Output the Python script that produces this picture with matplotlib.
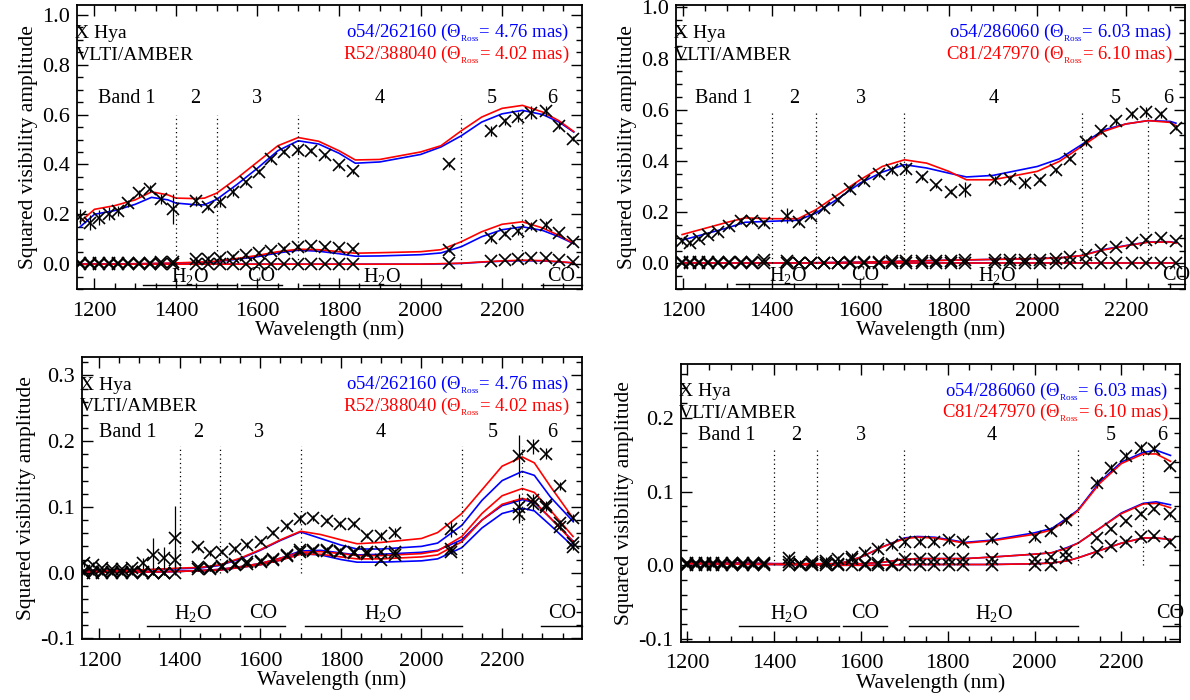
import matplotlib
matplotlib.use("Agg")
import matplotlib.pyplot as plt
from matplotlib.ticker import MultipleLocator

plt.rcParams['font.family'] = ['Liberation Serif', 'DejaVu Serif']
plt.rcParams['mathtext.fontset'] = 'custom'
plt.rcParams['mathtext.rm'] = 'Liberation Serif'
plt.rcParams['mathtext.it'] = 'Liberation Serif:italic'

# ---------------- panel 1 (top left) : epoch 1 -----------------
wl1 = [1165, 1190, 1212, 1235, 1258, 1283, 1310, 1336, 1364, 1392,
       1448, 1479, 1509, 1539, 1571, 1603, 1634, 1666, 1700,
       1732, 1766, 1800, 1834, 2070,
       2172, 2207, 2239, 2272, 2307, 2340, 2373]
v1_a = [0.19, 0.166, 0.187, 0.203, 0.214, 0.244, 0.284, 0.303, 0.26, 0.22,
        0.252, 0.228, 0.25, 0.29, 0.329, 0.371, 0.42, 0.45, 0.458,
        0.455, 0.436, 0.396, 0.372, 0.40,
        0.536, 0.573, 0.591, 0.608, 0.613, 0.556, 0.504]
e1_a = [0.03, 0.03, 0.03, 0.025, 0.02, 0.015, 0.015, 0.015, 0.02, 0.06,
        0.02, 0.01, 0.02, 0.015, 0.01, 0.01, 0.01, 0.01, 0.015,
        0.01, 0.01, 0.01, 0.01, 0.01,
        0.02, 0.015, 0.02, 0.025, 0.02, 0.015, 0.01]
v1_b = [0.004, 0.004, 0.004, 0.004, 0.004, 0.005, 0.005, 0.006, 0.008, 0.01,
        0.019, 0.022, 0.026, 0.03, 0.035, 0.043, 0.052, 0.062, 0.07,
        0.072, 0.068, 0.064, 0.059, 0.055,
        0.104, 0.122, 0.132, 0.153, 0.157, 0.125, 0.087]
e1_b = [0.005] * 10 + [0.01] * 9 + [0.008] * 5 + [0.015, 0.01, 0.015, 0.015, 0.015, 0.01, 0.008]
v1_c = [0.0] * 10 + [0.002] * 13 + [0.005, 0.012, 0.015, 0.019, 0.026, 0.024, 0.018, 0.009]
e1_c = [0.004] * 31

mw1 = [1165, 1200, 1250, 1300, 1340, 1380, 1400, 1450, 1470, 1500, 1550, 1600, 1650, 1700,
       1750, 1800, 1840, 1900, 2000, 2050, 2100, 2150, 2200, 2250, 2300, 2340, 2376]
b1_a = [0.15, 0.20, 0.215, 0.24, 0.268, 0.258, 0.245, 0.238, 0.238, 0.26, 0.32, 0.385, 0.455, 0.495,
        0.482, 0.445, 0.405, 0.41, 0.44, 0.47, 0.515, 0.57, 0.603, 0.617, 0.60, 0.57, 0.53]
r1_a = [0.17, 0.22, 0.235, 0.258, 0.29, 0.278, 0.265, 0.263, 0.265, 0.285, 0.345, 0.41, 0.475, 0.508,
        0.493, 0.455, 0.418, 0.42, 0.45, 0.475, 0.535, 0.59, 0.625, 0.637, 0.61, 0.575, 0.532]
b1_b = [0.0, 0.0, 0.0, 0.001, 0.002, 0.003, 0.004, 0.006, 0.007, 0.01, 0.02, 0.03, 0.045, 0.056,
        0.052, 0.042, 0.032, 0.033, 0.038, 0.045, 0.07, 0.11, 0.138, 0.15, 0.135, 0.11, 0.082]
r1_b = [0.0, 0.0, 0.001, 0.002, 0.003, 0.004, 0.005, 0.008, 0.009, 0.012, 0.023, 0.035, 0.05, 0.06,
        0.058, 0.05, 0.044, 0.046, 0.05, 0.058, 0.09, 0.13, 0.16, 0.17, 0.145, 0.115, 0.084]
b1_c = [0.0] * 19 + [0.001, 0.003, 0.008, 0.012, 0.014, 0.013, 0.009, 0.005]
r1_c = [0.0] * 19 + [0.002, 0.004, 0.009, 0.013, 0.016, 0.014, 0.01, 0.005]

# ---------------- panel 2 (top right) : epoch 2 -----------------
wl2 = [1198, 1216, 1236, 1256, 1278, 1304, 1330, 1356, 1382,
       1435, 1462, 1490, 1518, 1549, 1578, 1609, 1642, 1672, 1704,
       1739, 1771, 1804, 1836, 1904, 1939, 1973, 2007, 2042, 2074,
       2111, 2144, 2178, 2213, 2246, 2280, 2313]
v2_a = [0.087, 0.08, 0.096, 0.112, 0.122, 0.145, 0.166, 0.166, 0.158,
        0.187, 0.161, 0.184, 0.216, 0.249, 0.291, 0.321, 0.349, 0.364, 0.371,
        0.338, 0.306, 0.281, 0.288, 0.327, 0.33, 0.314, 0.327, 0.364, 0.41,
        0.473, 0.517, 0.555, 0.582, 0.592, 0.582, 0.531]
e2_a = [0.01] * 9 + [0.03, 0.01, 0.01, 0.01, 0.01, 0.01, 0.01, 0.01, 0.015, 0.02,
        0.01, 0.01, 0.01, 0.03, 0.015, 0.01, 0.02, 0.01, 0.01, 0.01,
        0.015, 0.01, 0.015, 0.015, 0.02, 0.015, 0.01]
v2_b = [0.005] * 8 + [0.015,
        0.01, 0.003, 0.003, 0.003, 0.003, 0.004, 0.005, 0.006, 0.008, 0.01,
        0.01, 0.01, 0.01, 0.013, 0.012, 0.012, 0.013, 0.015, 0.016, 0.027,
        0.035, 0.052, 0.065, 0.08, 0.093, 0.098, 0.088]
e2_b = [0.005] * 36
v2_c = [0.002] * 9 + [0.0] * 27
e2_c = [0.003] * 36

mw2 = [1198, 1300, 1340, 1400, 1460, 1500, 1550, 1600, 1650, 1700, 1750, 1800, 1840,
       1900, 2000, 2050, 2100, 2150, 2200, 2250, 2300, 2313]
b2_a = [0.091, 0.139, 0.161, 0.165, 0.169, 0.197, 0.253, 0.314, 0.357, 0.386, 0.373, 0.353, 0.338,
        0.344, 0.379, 0.409, 0.464, 0.522, 0.545, 0.558, 0.555, 0.548]
r2_a = [0.113, 0.161, 0.178, 0.175, 0.175, 0.21, 0.269, 0.327, 0.379, 0.405, 0.392, 0.36, 0.327,
        0.327, 0.36, 0.399, 0.457, 0.516, 0.545, 0.558, 0.551, 0.538]
b2_b = [0.003, 0.002, 0.002, 0.002, 0.002, 0.003, 0.004, 0.005, 0.007, 0.009, 0.011, 0.013, 0.014,
        0.016, 0.019, 0.022, 0.031, 0.055, 0.07, 0.084, 0.085, 0.081]
r2_b = [0.003, 0.002, 0.002, 0.002, 0.002, 0.003, 0.004, 0.005, 0.007, 0.009, 0.011, 0.013, 0.014,
        0.016, 0.019, 0.022, 0.031, 0.053, 0.069, 0.083, 0.084, 0.079]
b2_c = [0.001] * 22
r2_c = [0.001] * 22

# ---------------- panel 3 (bottom left) : epoch 3 -----------------
wl3 = [1162, 1185, 1208, 1231, 1256, 1282, 1308, 1335, 1362, 1389,
       1446, 1475, 1506, 1537, 1568, 1601, 1632, 1666, 1699,
       1732, 1766, 1799, 1833, 1866, 1899, 1935, 2074,
       2243, 2276, 2310, 2343, 2376]
v3_a = [0.014, 0.012, 0.007, 0.006, 0.006, 0.007, 0.014, 0.027, 0.022, 0.052,
        0.039, 0.03, 0.032, 0.036, 0.042, 0.047, 0.061, 0.071, 0.081,
        0.083, 0.079, 0.074, 0.074, 0.056, 0.056, 0.061, 0.067,
        0.178, 0.192, 0.181, 0.132, 0.083]
e3_a = [0.005, 0.004, 0.003, 0.003, 0.003, 0.004, 0.008, 0.025, 0.017, 0.05,
        0.005, 0.004, 0.004, 0.004, 0.004, 0.004, 0.004, 0.004, 0.006,
        0.005, 0.004, 0.004, 0.005, 0.004, 0.006, 0.007, 0.012,
        0.032, 0.012, 0.008, 0.006, 0.006]
v3_b = [0.003, 0.002, 0.001, 0.001, 0.001, 0.001, 0.001, 0.0, 0.0, 0.02,
        0.008, 0.007, 0.01, 0.013, 0.016, 0.018, 0.021, 0.027, 0.034,
        0.035, 0.035, 0.033, 0.032, 0.031, 0.031, 0.032, 0.036,
        0.1, 0.11, 0.103, 0.075, 0.045]
e3_b = [0.003] * 9 + [0.015] + [0.004] * 17 + [0.02, 0.01, 0.006, 0.005, 0.005]
v3_c = [0.0] * 10 + [0.005, 0.005, 0.008, 0.011, 0.013, 0.016, 0.019, 0.025, 0.031,
                     0.033, 0.033, 0.031, 0.03, 0.029, 0.019, 0.027, 0.032,
                     0.09, 0.104, 0.1, 0.07, 0.039]
e3_c = [0.003] * 27 + [0.015, 0.008, 0.006, 0.005, 0.005]

mw3 = [1160, 1300, 1400, 1450, 1500, 1550, 1600, 1650, 1700, 1750, 1800, 1840, 1900, 2000,
       2040, 2100, 2150, 2200, 2250, 2280, 2320, 2376]
r3_a = [0.003, 0.004, 0.007, 0.008, 0.012, 0.022, 0.035, 0.05, 0.063, 0.058, 0.05, 0.044, 0.046, 0.052,
        0.061, 0.09, 0.126, 0.162, 0.176, 0.167, 0.131, 0.083]
b3_a = [0.003, 0.004, 0.006, 0.007, 0.011, 0.021, 0.034, 0.049, 0.062, 0.052, 0.042, 0.036, 0.036, 0.04,
        0.045, 0.072, 0.11, 0.14, 0.154, 0.148, 0.115, 0.078]
r3_b = [0.001, 0.001, 0.002, 0.003, 0.005, 0.009, 0.014, 0.022, 0.031, 0.032, 0.029, 0.026, 0.026, 0.029,
        0.033, 0.055, 0.09, 0.117, 0.128, 0.122, 0.095, 0.055]
b3_b = [0.001, 0.001, 0.002, 0.003, 0.005, 0.009, 0.014, 0.022, 0.033, 0.034, 0.03, 0.027, 0.028, 0.031,
        0.034, 0.05, 0.08, 0.102, 0.111, 0.107, 0.083, 0.048]
r3_c = [0.001, 0.001, 0.002, 0.003, 0.004, 0.008, 0.012, 0.019, 0.028, 0.028, 0.024, 0.021, 0.021, 0.024,
        0.027, 0.047, 0.08, 0.104, 0.113, 0.108, 0.083, 0.047]
b3_c = [0.001, 0.001, 0.002, 0.003, 0.004, 0.008, 0.012, 0.019, 0.029, 0.027, 0.02, 0.016, 0.016, 0.018,
        0.021, 0.038, 0.068, 0.09, 0.098, 0.094, 0.072, 0.04]

# ---------------- panel 4 (bottom right) : epoch 4 -----------------
wl4 = [1200, 1220, 1240, 1259, 1281, 1303, 1328, 1352, 1378,
       1434, 1460, 1488, 1519, 1548, 1579, 1609, 1639, 1671, 1701,
       1736, 1769, 1803, 1835, 1901, 2002, 2037, 2073,
       2143, 2175, 2211, 2244, 2275, 2312]
v4_a = [0.003] * 9 + [0.01, 0.002, 0.004, 0.006, 0.008, 0.011, 0.017, 0.022, 0.027, 0.031,
                      0.032, 0.032, 0.034, 0.032, 0.035, 0.038, 0.047, 0.061,
                      0.111, 0.132, 0.148, 0.159, 0.158, 0.134]
e4_a = [0.002] * 9 + [0.005] * 18 + [0.006, 0.005, 0.005, 0.006, 0.005, 0.004]
v4_b = [0.002] * 9 + [0.005, 0.002, 0.002, 0.003, 0.002, 0.008, 0.002, 0.003, 0.002, 0.009,
                      0.009, 0.009, 0.009, 0.009, 0.008, 0.009, 0.011, 0.018,
                      0.037, 0.049, 0.06, 0.07, 0.076, 0.069]
e4_b = [0.003] * 33
v4_c = [0.001] * 9 + [0.0] * 17 + [0.01, 0.018, 0.026, 0.032, 0.038, 0.04, 0.032]
e4_c = [0.003] * 33

mw4 = [1200, 1400, 1550, 1600, 1650, 1700, 1730, 1770, 1800, 1840, 1900, 2000, 2040, 2075,
       2100, 2150, 2200, 2250, 2280, 2313]
b4_a = [0.004, 0.002, 0.002, 0.011, 0.025, 0.037, 0.039, 0.038, 0.035, 0.031, 0.034, 0.044, 0.05, 0.064,
        0.075, 0.113, 0.14, 0.153, 0.156, 0.149]
r4_a = [0.004, 0.002, 0.002, 0.011, 0.025, 0.036, 0.038, 0.037, 0.034, 0.03, 0.033, 0.042, 0.048, 0.062,
        0.074, 0.111, 0.138, 0.151, 0.151, 0.141]
b4_b = [0.003, 0.002, 0.002, 0.002, 0.004, 0.008, 0.009, 0.009, 0.009, 0.009, 0.011, 0.015, 0.017, 0.024,
        0.03, 0.05, 0.071, 0.084, 0.086, 0.082]
r4_b = [0.003, 0.002, 0.002, 0.002, 0.004, 0.008, 0.009, 0.009, 0.009, 0.009, 0.011, 0.015, 0.017, 0.023,
        0.03, 0.05, 0.07, 0.083, 0.084, 0.078]
b4_c = [0.002, 0.001, 0.0, 0.0, 0.0, 0.001, 0.001, 0.001, 0.001, 0.001, 0.001, 0.002, 0.003, 0.006,
        0.01, 0.02, 0.03, 0.037, 0.037, 0.035]
r4_c = [0.002, 0.001, 0.0, 0.0, 0.0, 0.001, 0.001, 0.001, 0.001, 0.001, 0.001, 0.002, 0.003, 0.006,
        0.01, 0.02, 0.03, 0.037, 0.037, 0.035]

# text
model_blue = [r"o54/262160 ($\Theta_{{}_{\rm Ross}}$= 4.76 mas)", r"o54/286060 ($\Theta_{{}_{\rm Ross}}$= 6.03 mas)"]
model_red = [r"R52/388040 ($\Theta_{{}_{\rm Ross}}$= 4.02 mas)", r"C81/247970 ($\Theta_{{}_{\rm Ross}}$= 6.10 mas)"]
band_names = ["Band 1", "2", "3", "4", "5", "6"]
band_edges = [1400, 1500, 1700, 2100, 2250]
mol_names = ["H$_2$O", "CO", "H$_2$O", "CO"]
mol_ranges = [(1320, 1550), (1559, 1661), (1711, 2100), (2296, 2420)]

FS_TICK = 16
FS_LAB = 15.5
FS_TXT = 14


def panel(rect, xlim, ylim, ymaj, ymin, wl, vs, es, mw, blues, reds, k,
          band_x, band_y, dot_top, mol_x, mol_y, line_y):
    ax = fig.add_axes(rect)
    ax.set_xlim(*xlim)
    ax.set_ylim(*ylim)
    for b, r in zip(blues, reds):
        ax.plot(mw, b, color='blue', lw=1.2)
        ax.plot(mw, r, color='red', lw=1.2)
    for v, e in zip(vs, es):
        ax.errorbar(wl, v, yerr=e, fmt='x', color='k', ms=9, mew=1.2,
                    elinewidth=0.9, capsize=0)
    for xe in band_edges:
        ax.plot([xe, xe], [0, dot_top], color='k', lw=0.9, ls=(0, (1, 2.5)))
    for name, bx in zip(band_names, band_x):
        ax.text(bx, band_y, name, ha='center', va='center', fontsize=14.5)
    for name, mx, (a, b) in zip(mol_names, mol_x, mol_ranges):
        ax.text(mx, mol_y, name, ha='center', va='center', fontsize=14.5)
        ax.plot([a, min(b, xlim[1])], [line_y, line_y], color='k', lw=1.0, clip_on=False)
    ax.text(-0.004, 0.90, "X Hya", transform=ax.transAxes, ha='left', va='center', fontsize=FS_TXT)
    ax.text(-0.004, 0.823, "VLTI/AMBER", transform=ax.transAxes, ha='left', va='center', fontsize=FS_TXT)
    ax.text(0.975, 0.90, model_blue[k], transform=ax.transAxes, ha='right', va='center',
            fontsize=13.5, color='blue')
    ax.text(0.975, 0.823, model_red[k], transform=ax.transAxes, ha='right', va='center',
            fontsize=13.5, color='red')
    ax.xaxis.set_major_locator(MultipleLocator(200))
    ax.xaxis.set_minor_locator(MultipleLocator(50))
    ax.yaxis.set_major_locator(MultipleLocator(ymaj))
    ax.yaxis.set_minor_locator(MultipleLocator(ymin))
    ax.yaxis.set_major_formatter(plt.FuncFormatter(lambda v, p: f"{v:.1f}"))
    ax.tick_params(which='both', direction='in', top=True, right=True, labelsize=FS_TICK, width=1.0)
    ax.tick_params(which='major', length=8)
    ax.tick_params(which='minor', length=4)
    ax.tick_params(axis='x', which='major', pad=9)
    ax.tick_params(axis='y', which='major', pad=5)
    for s in ax.spines.values():
        s.set_linewidth(1.3)
    ax.set_xlabel("Wavelength (nm)", fontsize=FS_LAB, labelpad=0)
    ax.set_ylabel("Squared visibility amplitude", fontsize=FS_LAB, labelpad=3)
    return ax


fig = plt.figure(figsize=(11.9, 7.0), dpi=100)

panel([0.065, 0.587, 0.424, 0.406], (1158, 2396), (-0.1, 1.04), 0.2, 0.05,
      wl1, [v1_a, v1_b, v1_c], [e1_a, e1_b, e1_c], mw1,
      [b1_a, b1_b, b1_c], [r1_a, r1_b, r1_c], 0,
      [1278, 1448, 1599, 1900, 2174, 2324], 0.665, 0.6,
      [1434, 1608, 1906, 2345], -0.048, -0.082)

panel([0.568, 0.587, 0.428, 0.406], (1184, 2334), (-0.1, 1.01), 0.2, 0.05,
      wl2, [v2_a, v2_b, v2_c], [e2_a, e2_b, e2_c], mw2,
      [b2_a, b2_b, b2_c], [r2_a, r2_b, r2_c], 1,
      [1291, 1451, 1603, 1901, 2178, 2295], 0.645, 0.6,
      [1436, 1611, 1910, 2313], -0.047, -0.079)

panel([0.069, 0.087, 0.42, 0.403], (1158, 2398), (-0.101, 0.328), 0.1, 0.02,
      wl3, [v3_a, v3_b, v3_c], [e3_a, e3_b, e3_c], mw3,
      [b3_a, b3_b, b3_c], [r3_a, r3_b, r3_c], 0,
      [1270, 1446, 1597, 1899, 2176, 2324], 0.213, 0.192,
      [1432, 1608, 1904, 2348], -0.062, -0.081)

panel([0.572, 0.083, 0.42, 0.397], (1185, 2336), (-0.104, 0.273), 0.1, 0.02,
      wl4, [v4_a, v4_b, v4_c], [e4_a, e4_b, e4_c], mw4,
      [b4_a, b4_b, b4_c], [r4_a, r4_b, r4_c], 1,
      [1290, 1450, 1601, 1901, 2175, 2294], 0.176, 0.159,
      [1435, 1610, 1906, 2312], -0.065, -0.083)

fig.savefig("out.png", dpi=100)
